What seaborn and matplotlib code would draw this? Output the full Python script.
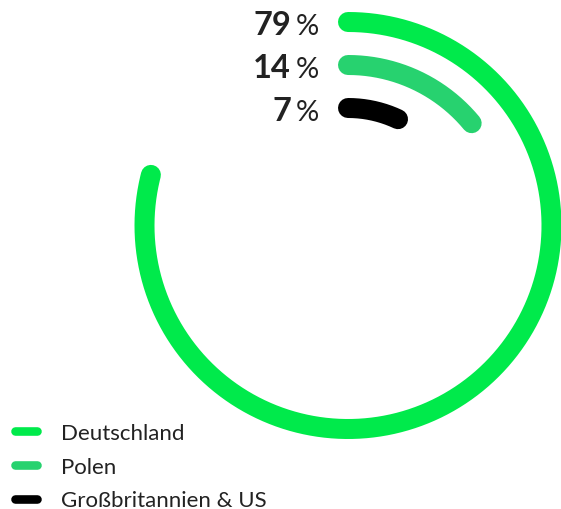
import numpy as np
import pandas as pd
import matplotlib
matplotlib.use("Agg")
import matplotlib.pyplot as plt
from matplotlib.lines import Line2D
import seaborn as sns

# Share of users by country
categories = ["Deutschland", "Polen", "Großbritannien & US"]
shares = [79, 14, 7]
colors = ["#00EA4B", "#27D26F", "#000000"]

W, H, DPI = 561, 510, 100
sns.set_theme(style="white")
plt.rcParams["font.family"] = ["Lato", "DejaVu Sans"]

fig = plt.figure(figsize=(W / DPI, H / DPI), dpi=DPI)
fig.patch.set_facecolor("white")

# polar axes sized so that one radial unit equals one pixel
cx, cy, R = 348, 226.5, 250
ax = fig.add_axes([(cx - R) / W, (H - cy - R) / H, 2 * R / W, 2 * R / H],
                  projection="polar")
ax.set_theta_zero_location("N")
ax.set_theta_direction(-1)
ax.set_ylim(0, R)
ax.set_axis_off()

ring_radius = [203.5, 160.5, 117.5]
rows = []
for cat, share, rad in zip(categories, shares, ring_radius):
    theta = np.linspace(0, share / 100 * 2 * np.pi, 300)
    rows.append(pd.DataFrame({"theta": theta, "r": rad, "category": cat}))
df = pd.concat(rows, ignore_index=True)

sns.lineplot(data=df, x="theta", y="r", hue="category",
             palette=dict(zip(categories, colors)), hue_order=categories,
             sort=False, estimator=None, linewidth=14.4,
             solid_capstyle="round", legend=False, ax=ax)
for ln in ax.lines:
    ln.set_clip_on(False)

# percentage labels next to the start of each ring
text_col = "#222222"
for share, rad in zip(shares, ring_radius):
    base = cy - rad + 12
    fig.text(291 / W, 1 - base / H, f"{share}", ha="right", va="baseline",
             fontsize=23.5, fontweight="bold", color=text_col)
    fig.text(296 / W, 1 - base / H, "%", ha="left", va="baseline",
             fontsize=21, color=text_col)

handles = [Line2D([0], [0], color=c, linewidth=6.2, solid_capstyle="round")
           for c in colors]
fig.legend(handles, categories, loc="upper left",
           bbox_to_anchor=(6 / W, 1 - 415 / H), frameon=False,
           prop={"size": 16}, labelcolor=text_col,
           handlelength=0.98, handletextpad=1.1, labelspacing=0.62,
           borderaxespad=0)

fig.savefig("out.png", dpi=DPI, facecolor="white")
